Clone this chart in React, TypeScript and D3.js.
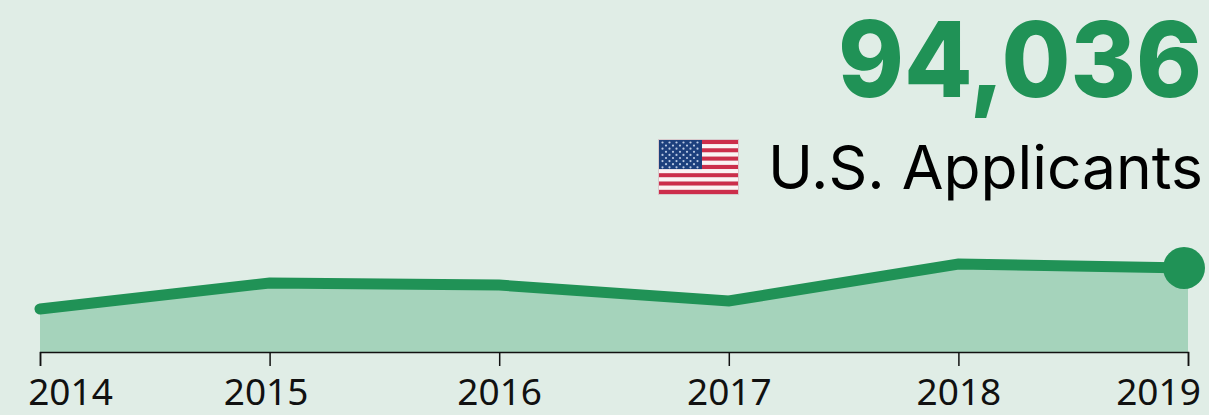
import React, { useEffect, useRef } from "react";
import * as d3 from "d3";

// chart data
const years = [2014, 2015, 2016, 2017, 2018, 2019];
const applicants = [87200, 91520, 91190, 88520, 94700, 94036];
const headline = "94,036";
const subtitle = "U.S. Applicants";

const width = 1209;
const height = 415;
const margin = { left: 40, right: 21, bottom: 63 };
const green = "#209256";

const xScale = d3
  .scaleLinear()
  .domain([2014, 2019])
  .range([margin.left, width - margin.right]);

// axis does not start at zero
const yScale = d3
  .scaleLinear()
  .domain([80000, 94036])
  .range([height - margin.bottom, 268]);

// end labels are nudged inward so they stay on the page
const labelShift = (year: number) => {
  if (year === 2014) return 30;
  if (year === 2015) return -4;
  if (year === 2019) return -30;
  return 0;
};

const App = () => {
  const ref = useRef<SVGSVGElement>(null);

  useEffect(() => {
    const svg = d3.select(ref.current);
    svg.selectAll("*").remove();

    svg
      .append("rect")
      .attr("width", width)
      .attr("height", height)
      .attr("fill", "#e0ede6");

    const defs = svg.append("defs");
    defs
      .append("filter")
      .attr("id", "soft")
      .append("feGaussianBlur")
      .attr("stdDeviation", 0.5);

    // area under the line
    const area = d3
      .area<number>()
      .x((_, i) => xScale(years[i]))
      .y0(yScale(80000))
      .y1((d) => yScale(d));
    svg
      .append("path")
      .attr("d", area(applicants))
      .attr("fill", "#a5d3bb");

    const line = d3
      .line<number>()
      .x((_, i) => xScale(years[i]))
      .y((d) => yScale(d));
    svg
      .append("path")
      .attr("d", line(applicants))
      .attr("fill", "none")
      .attr("stroke", green)
      .attr("stroke-width", 11)
      .attr("stroke-linecap", "round");

    svg
      .append("circle")
      .attr("cx", xScale(2019) - 4)
      .attr("cy", yScale(94036))
      .attr("r", 21)
      .attr("fill", green);

    // x axis
    const axis = svg
      .append("g")
      .attr("transform", `translate(0,${height - margin.bottom})`)
      .call(
        d3
          .axisBottom(xScale)
          .tickValues(years)
          .tickFormat(d3.format("d"))
          .tickSize(14)
          .tickSizeOuter(14)
      );
    axis.selectAll("path, line").attr("stroke", "#111").attr("stroke-width", 1.5);
    axis
      .selectAll<SVGTextElement, number>("text")
      .attr("y", 27)
      .attr("x", (d) => labelShift(d))
      .attr("fill", "#111")
      .style("font-family", "'Noto Sans', sans-serif")
      .style("font-size", "37px");

    // headline
    svg
      .append("text")
      .attr("x", 838)
      .attr("y", 97)
      .attr("textLength", 364)
      .attr("lengthAdjust", "spacingAndGlyphs")
      .attr("fill", green)
      .style("font-family", "Inter, 'Open Sans', sans-serif")
      .style("font-weight", 800)
      .style("font-size", "105px")
      .text(headline);

    svg
      .append("text")
      .attr("x", 768)
      .attr("y", 189)
      .attr("textLength", 435)
      .attr("lengthAdjust", "spacingAndGlyphs")
      .attr("fill", "#000")
      .style("font-family", "Inter, 'Open Sans', sans-serif")
      .style("font-weight", 400)
      .style("font-size", "60px")
      .text(subtitle);

    // flag
    const flag = svg
      .append("g")
      .attr("transform", "translate(658,139)")
      .attr("filter", "url(#soft)");
    flag
      .append("rect")
      .attr("width", 81)
      .attr("height", 56)
      .attr("fill", "#d8c9cc");
    const stripe = d3
      .scaleBand<number>()
      .domain(d3.range(13))
      .range([1, 55]);
    flag
      .selectAll("rect.stripe")
      .data(d3.range(13))
      .join("rect")
      .attr("class", "stripe")
      .attr("x", 1)
      .attr("y", (d) => stripe(d)!)
      .attr("width", 79)
      .attr("height", stripe.bandwidth())
      .attr("fill", (d) => (d % 2 === 0 ? "#cc2f4c" : "#fbf3f3"));
    flag
      .append("rect")
      .attr("x", 1)
      .attr("y", 1)
      .attr("width", 43)
      .attr("height", stripe(7)! - 1)
      .attr("fill", "#1f3f7d");
    d3.range(9).forEach((r) => {
      const cols = r % 2 === 0 ? 6 : 5;
      flag
        .append("g")
        .selectAll("circle")
        .data(d3.range(cols))
        .join("circle")
        .attr("cx", (c) => 4.5 + c * 7 + (r % 2 === 0 ? 0 : 3.5))
        .attr("cy", 3.5 + r * 3.1)
        .attr("r", 1.1)
        .attr("fill", "#b9cbe4");
    });
  }, []);

  return (
    <svg
      ref={ref}
      width={width}
      height={height}
      style={{ position: "absolute", left: 0, top: 0 }}
    />
  );
};

export default App;
